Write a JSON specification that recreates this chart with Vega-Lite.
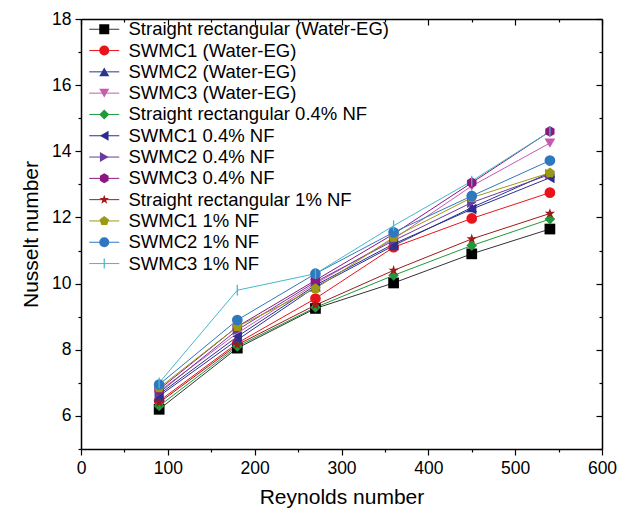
{
  "$schema": "https://vega.github.io/schema/vega-lite/v6.json",
  "width": 521,
  "height": 430,
  "autosize": "none",
  "padding": {"left": 81, "top": 19, "right": 40, "bottom": 64},
  "background": "white",
  "config": {"view": {"stroke": null}, "font": "Liberation Sans"},
  "data": {"values": [
    {"series": "Straight rectangular (Water-EG)", "Re": 90, "Nu": 6.2},
    {"series": "Straight rectangular (Water-EG)", "Re": 180, "Nu": 8.05},
    {"series": "Straight rectangular (Water-EG)", "Re": 270, "Nu": 9.25},
    {"series": "Straight rectangular (Water-EG)", "Re": 360, "Nu": 10.02},
    {"series": "Straight rectangular (Water-EG)", "Re": 450, "Nu": 10.9},
    {"series": "Straight rectangular (Water-EG)", "Re": 540, "Nu": 11.65},
    {"series": "SWMC1 (Water-EG)", "Re": 90, "Nu": 6.45},
    {"series": "SWMC1 (Water-EG)", "Re": 180, "Nu": 8.2},
    {"series": "SWMC1 (Water-EG)", "Re": 270, "Nu": 9.55},
    {"series": "SWMC1 (Water-EG)", "Re": 360, "Nu": 11.1},
    {"series": "SWMC1 (Water-EG)", "Re": 450, "Nu": 11.97},
    {"series": "SWMC1 (Water-EG)", "Re": 540, "Nu": 12.75},
    {"series": "SWMC2 (Water-EG)", "Re": 90, "Nu": 6.6},
    {"series": "SWMC2 (Water-EG)", "Re": 180, "Nu": 8.3},
    {"series": "SWMC2 (Water-EG)", "Re": 270, "Nu": 9.9},
    {"series": "SWMC2 (Water-EG)", "Re": 360, "Nu": 11.15},
    {"series": "SWMC2 (Water-EG)", "Re": 450, "Nu": 12.3},
    {"series": "SWMC2 (Water-EG)", "Re": 540, "Nu": 13.35},
    {"series": "SWMC3 (Water-EG)", "Re": 90, "Nu": 6.75},
    {"series": "SWMC3 (Water-EG)", "Re": 180, "Nu": 8.5},
    {"series": "SWMC3 (Water-EG)", "Re": 270, "Nu": 10.0},
    {"series": "SWMC3 (Water-EG)", "Re": 360, "Nu": 11.35},
    {"series": "SWMC3 (Water-EG)", "Re": 450, "Nu": 12.95},
    {"series": "SWMC3 (Water-EG)", "Re": 540, "Nu": 14.25},
    {"series": "Straight rectangular 0.4% NF", "Re": 90, "Nu": 6.3},
    {"series": "Straight rectangular 0.4% NF", "Re": 180, "Nu": 8.1},
    {"series": "Straight rectangular 0.4% NF", "Re": 270, "Nu": 9.28},
    {"series": "Straight rectangular 0.4% NF", "Re": 360, "Nu": 10.25},
    {"series": "Straight rectangular 0.4% NF", "Re": 450, "Nu": 11.15},
    {"series": "Straight rectangular 0.4% NF", "Re": 540, "Nu": 11.95},
    {"series": "SWMC1 0.4% NF", "Re": 90, "Nu": 6.65},
    {"series": "SWMC1 0.4% NF", "Re": 180, "Nu": 8.4},
    {"series": "SWMC1 0.4% NF", "Re": 270, "Nu": 9.95},
    {"series": "SWMC1 0.4% NF", "Re": 360, "Nu": 11.2},
    {"series": "SWMC1 0.4% NF", "Re": 450, "Nu": 12.25},
    {"series": "SWMC1 0.4% NF", "Re": 540, "Nu": 13.2},
    {"series": "SWMC2 0.4% NF", "Re": 90, "Nu": 6.7},
    {"series": "SWMC2 0.4% NF", "Re": 180, "Nu": 8.6},
    {"series": "SWMC2 0.4% NF", "Re": 270, "Nu": 10.05},
    {"series": "SWMC2 0.4% NF", "Re": 360, "Nu": 11.3},
    {"series": "SWMC2 0.4% NF", "Re": 450, "Nu": 12.45},
    {"series": "SWMC2 0.4% NF", "Re": 540, "Nu": 13.3},
    {"series": "SWMC3 0.4% NF", "Re": 90, "Nu": 6.8},
    {"series": "SWMC3 0.4% NF", "Re": 180, "Nu": 8.7},
    {"series": "SWMC3 0.4% NF", "Re": 270, "Nu": 10.1},
    {"series": "SWMC3 0.4% NF", "Re": 360, "Nu": 11.5},
    {"series": "SWMC3 0.4% NF", "Re": 450, "Nu": 13.05},
    {"series": "SWMC3 0.4% NF", "Re": 540, "Nu": 14.6},
    {"series": "Straight rectangular 1% NF", "Re": 90, "Nu": 6.4},
    {"series": "Straight rectangular 1% NF", "Re": 180, "Nu": 8.15},
    {"series": "Straight rectangular 1% NF", "Re": 270, "Nu": 9.35},
    {"series": "Straight rectangular 1% NF", "Re": 360, "Nu": 10.4},
    {"series": "Straight rectangular 1% NF", "Re": 450, "Nu": 11.35},
    {"series": "Straight rectangular 1% NF", "Re": 540, "Nu": 12.12},
    {"series": "SWMC1 1% NF", "Re": 90, "Nu": 6.85},
    {"series": "SWMC1 1% NF", "Re": 180, "Nu": 8.7},
    {"series": "SWMC1 1% NF", "Re": 270, "Nu": 9.85},
    {"series": "SWMC1 1% NF", "Re": 360, "Nu": 11.4},
    {"series": "SWMC1 1% NF", "Re": 450, "Nu": 12.6},
    {"series": "SWMC1 1% NF", "Re": 540, "Nu": 13.35},
    {"series": "SWMC2 1% NF", "Re": 90, "Nu": 6.95},
    {"series": "SWMC2 1% NF", "Re": 180, "Nu": 8.9},
    {"series": "SWMC2 1% NF", "Re": 270, "Nu": 10.3},
    {"series": "SWMC2 1% NF", "Re": 360, "Nu": 11.55},
    {"series": "SWMC2 1% NF", "Re": 450, "Nu": 12.65},
    {"series": "SWMC2 1% NF", "Re": 540, "Nu": 13.72},
    {"series": "SWMC3 1% NF", "Re": 90, "Nu": 7.0},
    {"series": "SWMC3 1% NF", "Re": 180, "Nu": 9.8},
    {"series": "SWMC3 1% NF", "Re": 270, "Nu": 10.3},
    {"series": "SWMC3 1% NF", "Re": 360, "Nu": 11.75},
    {"series": "SWMC3 1% NF", "Re": 450, "Nu": 13.1},
    {"series": "SWMC3 1% NF", "Re": 540, "Nu": 14.6}
  ]},
  "transform": [{"calculate": "datum.series", "as": "label"}],
  "layer": [
    {
      "mark": {"type": "line", "strokeWidth": 1},
      "encoding": {
        "x": {"field": "Re", "type": "quantitative", "scale": {"domain": [0, 600], "nice": false, "zero": false},
          "axis": {"title": "Reynolds number", "grid": false, "values": [0, 50, 100, 150, 200, 250, 300, 350, 400, 450, 500, 550, 600],
            "labelExpr": "datum.value % 100 === 0 ? datum.label : ''",
            "tickSize": {"condition": {"test": "datum.value % 100 === 0", "value": 6}, "value": 3},
            "domainColor": "black", "domainWidth": 1.5, "tickColor": "black", "tickWidth": 1.2,
            "labelFontSize": 17.5, "labelColor": "black", "labelFont": "Liberation Sans", "labelFlush": false, "labelOverlap": false, "labelPadding": 4,
            "titleFontSize": 21, "titleColor": "black", "titleFont": "Liberation Sans", "titleFontWeight": "normal", "titlePadding": 10}},
        "y": {"field": "Nu", "type": "quantitative", "scale": {"domain": [5, 18], "nice": false, "zero": false},
          "axis": {"title": "Nusselt number", "grid": false, "values": [5, 6, 7, 8, 9, 10, 11, 12, 13, 14, 15, 16, 17, 18],
            "labelExpr": "datum.value % 2 === 0 ? datum.label : ''",
            "tickSize": {"condition": {"test": "datum.value % 2 === 0", "value": 6}, "value": 3},
            "domainColor": "black", "domainWidth": 1.5, "tickColor": "black", "tickWidth": 1.2,
            "labelFontSize": 17.5, "labelColor": "black", "labelFont": "Liberation Sans", "labelFlush": false, "labelOverlap": false, "labelPadding": 4,
            "titleFontSize": 21, "titleColor": "black", "titleFont": "Liberation Sans", "titleFontWeight": "normal", "titlePadding": 10}},
        "stroke": {"field": "series", "type": "nominal",
          "sort": ["Straight rectangular (Water-EG)", "SWMC1 (Water-EG)", "SWMC2 (Water-EG)", "SWMC3 (Water-EG)", "Straight rectangular 0.4% NF", "SWMC1 0.4% NF", "SWMC2 0.4% NF", "SWMC3 0.4% NF", "Straight rectangular 1% NF", "SWMC1 1% NF", "SWMC2 1% NF", "SWMC3 1% NF"],
          "scale": {"range": ["#333333", "#e8141b", "#2a3590", "#c65aae", "#1e9a3a", "#2e2d8f", "#6a3a9f", "#8e1680", "#9e1b1b", "#9c9a14", "#2f78c0", "#43b9c9"]},
          "legend": {"orient": "none", "legendX": 14, "legendY": 1, "title": null, "symbolType": "M-3,0H3", "symbolSize": 100, "symbolStrokeWidth": 1,
            "labelOpacity": 0, "labelFontSize": 18.5, "labelFont": "Liberation Sans", "labelOffset": 15, "labelLimit": 400, "rowPadding": 2.3, "padding": 0}}
      }
    },
    {
      "mark": {"type": "point", "filled": true, "opacity": 1, "size": 115, "strokeWidth": 0},
      "encoding": {
        "x": {"field": "Re", "type": "quantitative",
          "axis": {"orient": "top", "title": null, "labels": false, "grid": false, "values": [0, 50, 100, 150, 200, 250, 300, 350, 400, 450, 500, 550, 600],
            "tickSize": {"condition": {"test": "datum.value % 100 === 0", "value": -6}, "value": -3},
            "domainColor": "black", "domainWidth": 1.5, "tickColor": "black", "tickWidth": 1.2}},
        "y": {"field": "Nu", "type": "quantitative",
          "axis": {"orient": "right", "title": null, "labels": false, "grid": false, "values": [5, 6, 7, 8, 9, 10, 11, 12, 13, 14, 15, 16, 17, 18],
            "tickSize": {"condition": {"test": "datum.value % 2 === 0", "value": -6}, "value": -3},
            "domainColor": "black", "domainWidth": 1.5, "tickColor": "black", "tickWidth": 1.2}},
        "fill": {"field": "label", "type": "nominal",
          "scale": {"domain": ["Straight rectangular (Water-EG)", "SWMC1 (Water-EG)", "SWMC2 (Water-EG)", "SWMC3 (Water-EG)", "Straight rectangular 0.4% NF", "SWMC1 0.4% NF", "SWMC2 0.4% NF", "SWMC3 0.4% NF", "Straight rectangular 1% NF", "SWMC1 1% NF", "SWMC2 1% NF", "SWMC3 1% NF"],
            "range": ["#000000", "#e8141b", "#2a3590", "#c65aae", "#1e9a3a", "#2e2d8f", "#6a3a9f", "#8e1680", "#9e1b1b", "#9c9a14", "#2f78c0", "#43b9c9"]},
          "legend": {"orient": "none", "legendX": 14, "legendY": 1, "title": null, "symbolSize": 100, "symbolStrokeWidth": 0,
            "labelFontSize": 18.5, "labelFont": "Liberation Sans", "labelColor": "black", "labelOffset": 15, "labelLimit": 400, "rowPadding": 2.3, "padding": 0}},
        "shape": {"field": "label", "type": "nominal",
          "scale": {"domain": ["Straight rectangular (Water-EG)", "SWMC1 (Water-EG)", "SWMC2 (Water-EG)", "SWMC3 (Water-EG)", "Straight rectangular 0.4% NF", "SWMC1 0.4% NF", "SWMC2 0.4% NF", "SWMC3 0.4% NF", "Straight rectangular 1% NF", "SWMC1 1% NF", "SWMC2 1% NF", "SWMC3 1% NF"],
            "range": ["square", "circle", "triangle-up", "triangle-down", "diamond", "triangle-left", "triangle-right",
              "M0,-1L0.866,-0.5L0.866,0.5L0,1L-0.866,0.5L-0.866,-0.5Z",
              "M0,-1L0.235,-0.324L0.951,-0.309L0.380,0.124L0.588,0.809L0,0.4L-0.588,0.809L-0.380,0.124L-0.951,-0.309L-0.235,-0.324Z",
              "M0,-1L0.951,-0.309L0.588,0.809L-0.588,0.809L-0.951,-0.309Z",
              "circle",
              "M-0.12,-1H0.12V1H-0.12Z"]},
          "legend": {"orient": "none", "legendX": 14, "legendY": 1, "title": null, "symbolSize": 100, "symbolStrokeWidth": 0,
            "labelFontSize": 18.5, "labelFont": "Liberation Sans", "labelColor": "black", "labelOffset": 15, "labelLimit": 400, "rowPadding": 2.3, "padding": 0}}
      }
    }
  ],
  "resolve": {"axis": {"x": "independent", "y": "independent"}}
}
